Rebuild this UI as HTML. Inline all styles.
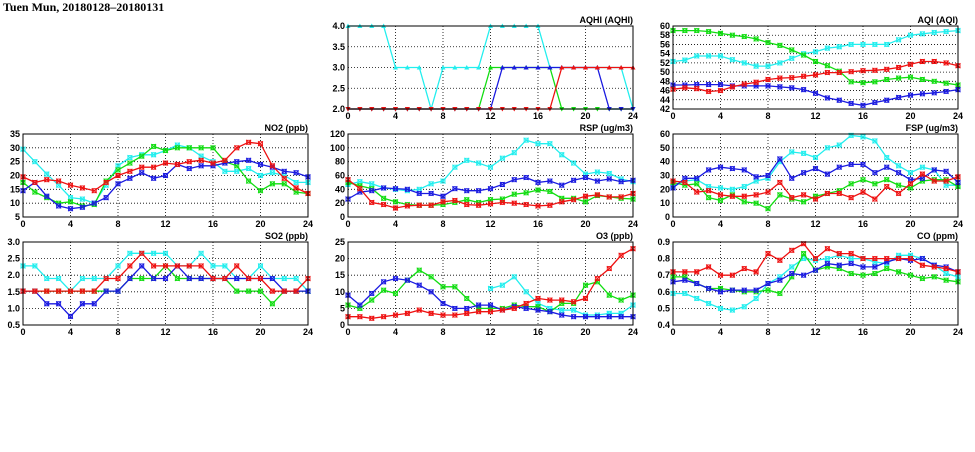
<!DOCTYPE html>
<html><head><meta charset="utf-8"><style>
body{margin:0;background:#fff;width:975px;height:447px;overflow:hidden}
svg text{font-family:"Liberation Sans",sans-serif;font-size:9px;font-weight:bold;fill:#000}
</style></head><body>
<svg id="c" width="975" height="447" xmlns="http://www.w3.org/2000/svg">
<text x="3" y="11" style="font-family:'Liberation Serif',serif;font-size:12px;font-weight:bold">Tuen Mun, 20180128–20180131</text>
</svg>
<script>
const hours=[0,1,2,3,4,5,6,7,8,9,10,11,12,13,14,15,16,17,18,19,20,21,22,23,24];
const aqhiCyan=[4,4,4,4,3,3,3,2,3,3,3,3,4,4,4,4,4,3,3,3,3,3,3,3,2];
const aqhiGreen=[2,2,2,2,2,2,2,2,2,2,2,2,3,3,3,3,3,3,2,2,2,2,2,2,2];
const aqhiBlue=[2,2,2,2,2,2,2,2,2,2,2,2,2,3,3,3,3,3,3,3,3,3,2,2,2];
const aqhiRed=[2,2,2,2,2,2,2,2,2,2,2,2,2,2,2,2,2,2,3,3,3,3,3,3,3];
const aqiCyan=[52.3,52.6,53.5,53.5,53.5,52.7,52,51.3,51.3,52,53,54,54.4,55.2,55.5,56,56,56,56,57,58,58.3,58.6,58.8,59];
const aqiGreen=[59,59,59,58.8,58.4,58,57.7,57.2,56.4,55.8,54.8,53.7,52.3,51.4,50.2,47.9,47.7,47.9,48.4,48.7,48.9,48.4,48,47.6,47.2];
const aqiBlue=[47.2,47.2,47.3,47.3,47.3,47,47,47,47,46.8,46.6,46.2,45.4,44.4,43.9,43.2,42.8,43.4,43.9,44.5,45,45.3,45.5,45.8,46.2];
const aqiRed=[46.3,46.6,46.4,45.8,46,46.8,47.4,47.8,48.4,48.7,48.8,49.1,49.4,49.9,49.9,50.1,50.3,50.4,50.6,51,51.7,52.3,52.3,52,51.4];
const no2Cyan=[29.5,25,20.5,16.5,12,11.5,10,16.5,23.5,26.5,27.5,27.5,29,31,30,27,25,21.5,21.5,22.5,20,21,20,17.5,17.5];
const no2Green=[17.5,14,12,10,10.5,9,9.5,18,22,24.5,27,30.5,29,30,30,30,30,25,23.5,18,14.5,17,17,14,13.5];
const no2Blue=[14.5,17.5,12.5,9,8,8.5,10,12,17,19,21,19,20,24,22.5,23.5,23.5,24.5,25,25.5,24,23,21.5,21,19.5];
const no2Red=[19.5,17.5,18.5,18,16.5,15.5,14.5,17.5,20,21.5,23,23,24.5,24,25,25.5,24.5,25.5,30,32,31.5,23.5,19,15.5,13.5];
const rspCyan=[47,51,48,42,40,38,40,48,52,72,82,78,72,85,93,111,106,106,90,78,62,65,63,55,51];
const rspGreen=[50,45,41,27,22,18,17,17,18,21,25,21,25,26,33,35,39,37,27,27,22,31,29,27,26];
const rspBlue=[26,36,38,42,41,40,34,34,30,41,38,38,41,47,54,57,50,52,46,53,57,52,55,51,53];
const rspRed=[54,41,21,18,13,16,17,17,22,24,18,17,19,21,20,18,16,17,22,25,30,32,29,29,34];
const fspCyan=[22,26,27,22,21,20,22,26,28,40,47,46,43,50,52,59,58,55,43,37,32,36,34,23,23];
const fspGreen=[25,23,24,14,12,16,11,10,6,16,13,11,15,17,19,24,27,24,27,23,21,26,27,27,22];
const fspBlue=[21,28,28,34,36,35,34,29,30,42,28,32,35,31,36,38,38,32,36,32,27,28,34,33,25];
const fspRed=[26,25,18,19,16,15,15,16,18,25,14,16,13,17,17,14,18,13,22,17,24,31,26,26,29];
const so2Cyan=[2.28,2.28,1.9,1.9,1.52,1.9,1.9,1.9,2.28,2.66,2.66,2.66,2.66,2.28,2.28,2.66,2.28,2.28,1.9,1.9,2.28,1.9,1.9,1.9,1.52];
const so2Green=[1.52,1.52,1.52,1.52,1.52,1.52,1.52,1.52,1.52,1.9,1.9,1.9,2.28,1.9,1.9,1.9,1.9,1.9,1.52,1.52,1.52,1.14,1.52,1.52,1.52];
const so2Blue=[1.52,1.52,1.14,1.14,0.76,1.14,1.14,1.52,1.52,1.9,2.28,1.9,1.9,2.28,1.9,1.9,1.9,1.9,1.9,1.9,1.9,1.9,1.52,1.52,1.52];
const so2Red=[1.52,1.52,1.52,1.52,1.52,1.52,1.52,1.9,1.9,2.28,2.66,2.28,2.28,2.28,2.28,2.28,1.9,1.9,2.28,1.9,1.9,1.52,1.52,1.52,1.9];
const o3Cyan=[null,null,null,null,null,null,null,null,null,null,null,null,11,12,14.5,10,6.5,5,4.5,4.5,3,3,3.5,3.5,6];
const o3Green=[6,5,7.5,10.5,9.5,13.5,16.5,14.5,11.5,11.5,8,5,5,5,6,5.5,5.5,4,6.5,6.5,12,13,9,7.5,9];
const o3Blue=[9,6,9.5,13,14,13.5,12,10,6.5,5,5,6,6,4.5,5.5,5,4.5,4,3,2.5,2.5,2.5,2.5,2.5,2.5];
const o3Red=[2.5,2.5,2,2.5,3,3.5,4.5,3.5,3,3,3.5,4,4,4.5,5,6.5,8,7.5,7.5,7,8,14,17,21,23];
const coCyan=[.59,.59,.56,.53,.50,.49,.51,.56,.65,.69,.75,.80,.79,.80,.82,.80,.80,.78,.77,.82,.82,.80,.76,.71,.69];
const coGreen=[.69,.69,.65,.62,.62,.61,.60,.60,.61,.59,.69,.83,.73,.75,.74,.71,.70,.71,.74,.72,.70,.68,.69,.67,.66];
const coBlue=[.66,.67,.65,.62,.60,.61,.61,.61,.65,.67,.71,.70,.73,.77,.76,.77,.75,.75,.78,.80,.79,.80,.76,.75,.72];
const coRed=[.72,.72,.72,.75,.70,.70,.74,.72,.83,.79,.85,.89,.80,.86,.83,.83,.80,.80,.80,.80,.80,.76,.75,.74,.72];
const xTicks=[0,4,8,12,16,20,24];

const NS="http://www.w3.org/2000/svg";
const svg=document.getElementById('c');
const COLS={cyan:'#22eeee',green:'#11dd11',blue:'#1a1ae0',red:'#ee1111'};
function mk(t,a,p){const e=document.createElementNS(NS,t);for(const k in a)e.setAttribute(k,a[k]);(p||svg).appendChild(e);return e;}
function panel(name,title,x0,y0,x1,y1,ymin,ymax,ystep,dec,series,tri){
  const g=mk('g',{});
  
  
  const sx=v=>x0+(x1-x0)*v/24, sy=v=>y1-(y1-y0)*(v-ymin)/(ymax-ymin);
  for(let v=ymin;v<=ymax+1e-9;v+=ystep){
    const y=sy(v);
    if(v>ymin+1e-9&&v<ymax-1e-9){const l=mk('line',{x1:x0,x2:x1,y1:y,y2:y,stroke:'#000','stroke-width':0.8,'stroke-dasharray':'1,2'},g);}
    const t=mk('text',{x:x0-3,y:y+3,'text-anchor':'end'},g);t.textContent=v.toFixed(dec);
    
  }
  xTicks.forEach(h=>{const x=sx(h);
    if(h>0&&h<24){const l=mk('line',{x1:x,x2:x,y1:y0,y2:y1,stroke:'#000','stroke-width':0.8,'stroke-dasharray':'1,2'},g);}
    const t=mk('text',{x:x,y:y1+10,'text-anchor':'middle'},g);t.textContent=h;
    });
  const tt=mk('text',{x:x1,y:y0-3,'text-anchor':'end','font-family':'Liberation Serif, serif'},g);tt.textContent=title;
  
  series.forEach(([cn,vals])=>{
    const c=COLS[cn];let d='';let pen=false;
    vals.forEach((v,i)=>{if(v==null){pen=false;return;}d+=(pen?'L':'M')+sx(hours[i]).toFixed(1)+','+sy(v).toFixed(1);pen=true;});
    const p=mk('path',{d:d,fill:'none',stroke:c,'stroke-width':1.3},g);
    
    vals.forEach((v,i)=>{if(v==null)return;const x=sx(hours[i]),y=sy(v);let m;
      if(tri){const up=v>ymin+0.01;m=mk('path',{d:up?`M${x-2.5},${y+2}L${x+2.5},${y+2}L${x},${y-2.5}Z`:`M${x-2.5},${y-2}L${x+2.5},${y-2}L${x},${y+2.5}Z`,fill:c},g);}
      else{m=mk('path',{d:`M${x-2},${y-2}h4v4h-4zM${x-2.5},${y-2.5}l5,5M${x+2.5},${y-2.5}l-5,5`,fill:'none',stroke:c,'stroke-width':0.9},g);}
      });
  });
  const r=mk('rect',{x:x0,y:y0,width:x1-x0,height:y1-y0,fill:'none',stroke:'#000','stroke-width':1},g);
  
}
const C1=[23,308],C2=[348,633],C3=[673,958],R1=[26,109],R2=[134,217],R3=[242,325];
panel('aqhi','AQHI (AQHI)',C2[0],R1[0],C2[1],R1[1],2,4,0.5,1,[['cyan',aqhiCyan],['green',aqhiGreen],['blue',aqhiBlue],['red',aqhiRed]],true);
panel('aqi','AQI (AQI)',C3[0],R1[0],C3[1],R1[1],42,60,2,0,[['cyan',aqiCyan],['green',aqiGreen],['blue',aqiBlue],['red',aqiRed]]);
panel('no2','NO2 (ppb)',C1[0],R2[0],C1[1],R2[1],5,35,5,0,[['cyan',no2Cyan],['green',no2Green],['blue',no2Blue],['red',no2Red]]);
panel('rsp','RSP (ug/m3)',C2[0],R2[0],C2[1],R2[1],0,120,20,0,[['cyan',rspCyan],['green',rspGreen],['blue',rspBlue],['red',rspRed]]);
panel('fsp','FSP (ug/m3)',C3[0],R2[0],C3[1],R2[1],0,60,10,0,[['cyan',fspCyan],['green',fspGreen],['blue',fspBlue],['red',fspRed]]);
panel('so2','SO2 (ppb)',C1[0],R3[0],C1[1],R3[1],0.5,3,0.5,1,[['cyan',so2Cyan],['green',so2Green],['blue',so2Blue],['red',so2Red]]);
panel('o3','O3 (ppb)',C2[0],R3[0],C2[1],R3[1],0,25,5,0,[['cyan',o3Cyan],['green',o3Green],['blue',o3Blue],['red',o3Red]]);
panel('co','CO (ppm)',C3[0],R3[0],C3[1],R3[1],0.4,0.9,0.1,1,[['cyan',coCyan],['green',coGreen],['blue',coBlue],['red',coRed]]);
</script>
</body></html>
